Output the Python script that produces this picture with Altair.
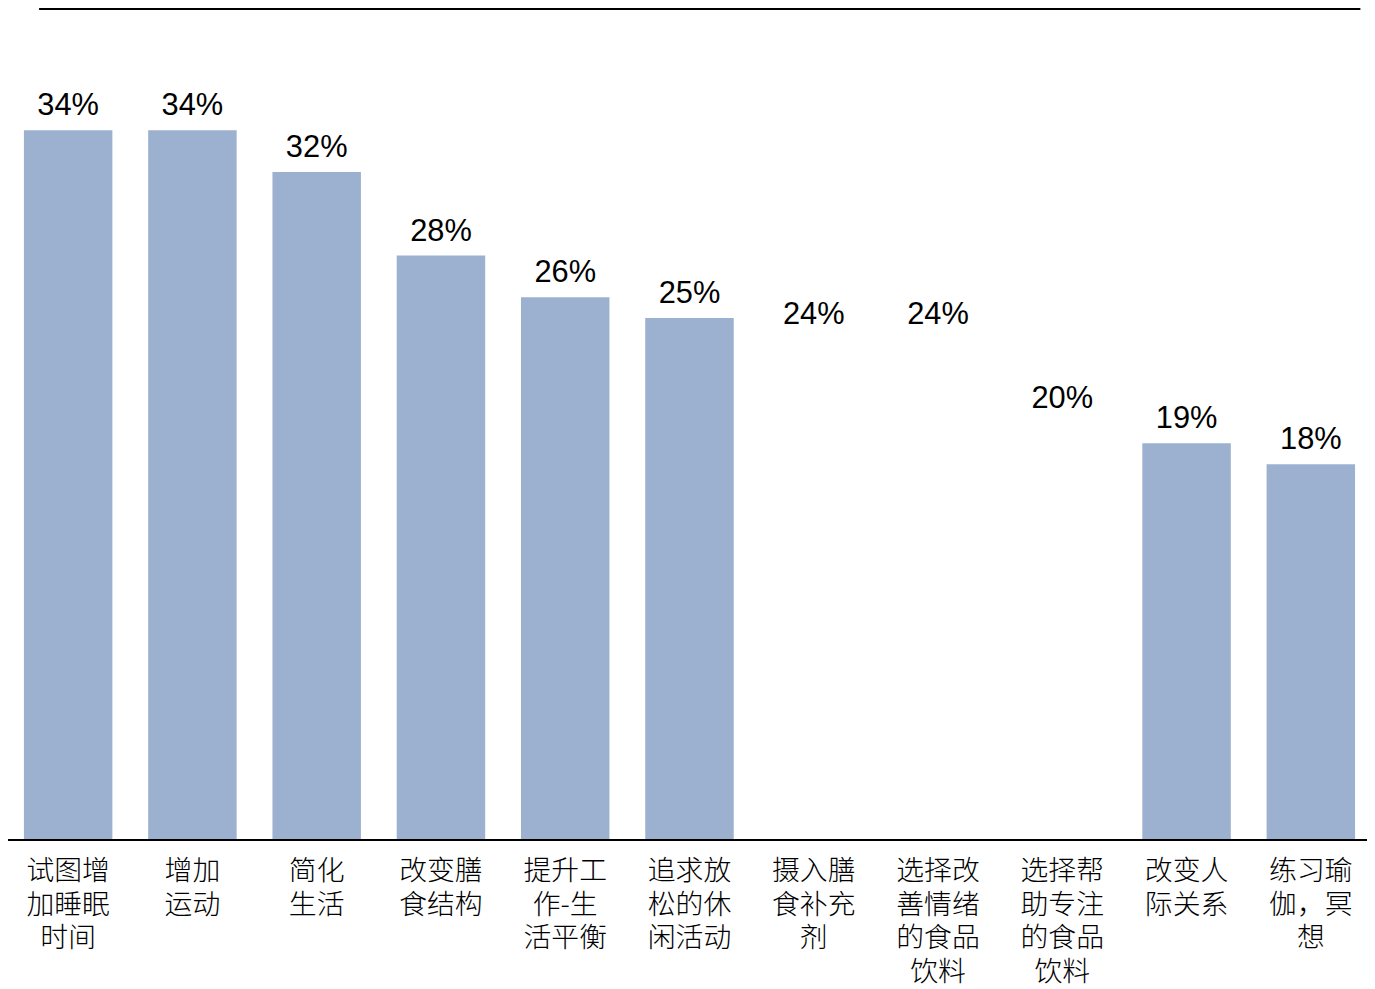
import altair as alt
import pandas as pd

categories = [
    "试图增\n加睡眠\n时间", "增加\n运动", "简化\n生活", "改变膳\n食结构", "提升工\n作-生\n活平衡",
    "追求放\n松的休\n闲活动", "摄入膳\n食补充\n剂", "选择改\n善情绪\n的食品\n饮料", "选择帮\n助专注\n的食品\n饮料",
    "改变人\n际关系", "练习瑜\n伽，冥\n想",
]
values = [34, 34, 32, 28, 26, 25, 24, 24, 20, 19, 18]
group = ["常规", "常规", "常规", "常规", "常规", "常规", "突出", "突出", "突出", "常规", "常规"]

df = pd.DataFrame({
    "cat": [c.replace("\n", "|") for c in categories],
    "val": values,
    "grp": group,
    "lab": [f"{v}%" for v in values],
})

W, H = 1365, 828
order = list(df["cat"])

xscale = alt.Scale(paddingInner=0.288, paddingOuter=0, range=[14, 1353], round=False)
x = alt.X("cat:N", sort=order, title=None, scale=xscale,
          axis=alt.Axis(labelExpr="split(datum.label, '|')", labelAngle=0,
                        labelFont="Noto Sans CJK SC", labelFontSize=28, labelFontWeight=300,
                        labelLineHeight=33.8, labelPadding=18, labelColor="black",
                        labelAlign="center", labelBaseline="top",
                        ticks=False, domain=False))
y = alt.Y("val:Q", scale=alt.Scale(domain=[0, 828 / 21], nice=False), axis=None)

bars = alt.Chart(df).mark_bar().encode(
    x=x, y=y,
    color=alt.Color("grp:N", scale=alt.Scale(domain=["常规", "突出"], range=["#9CB0D0", "#FFFFFF"]),
                    legend=None),
)
text = alt.Chart(df).mark_text(baseline="bottom", dy=-8, font="Liberation Sans",
                               fontSize=31, color="black").encode(
    x=alt.X("cat:N", sort=order, scale=xscale), y=y, text="lab:N")

baseline = alt.Chart(df).mark_rule(color="black", strokeWidth=2).encode(
    x=alt.value(-4), x2=alt.value(W), y=alt.value(H))

topline = alt.Chart(df).mark_rule(color="black", strokeWidth=2).encode(
    x=alt.value(30), x2=alt.value(1358), y=alt.value(-8))

chart = alt.layer(bars, text, baseline, topline).properties(
    width=W, height=H,
    padding={"left": 2, "top": 6, "right": 0, "bottom": 147},
    autosize=alt.AutoSizeParams(type="none"),
).configure_view(stroke=None)

chart.save("out.html", embed_options={"renderer": "svg", "actions": False})
